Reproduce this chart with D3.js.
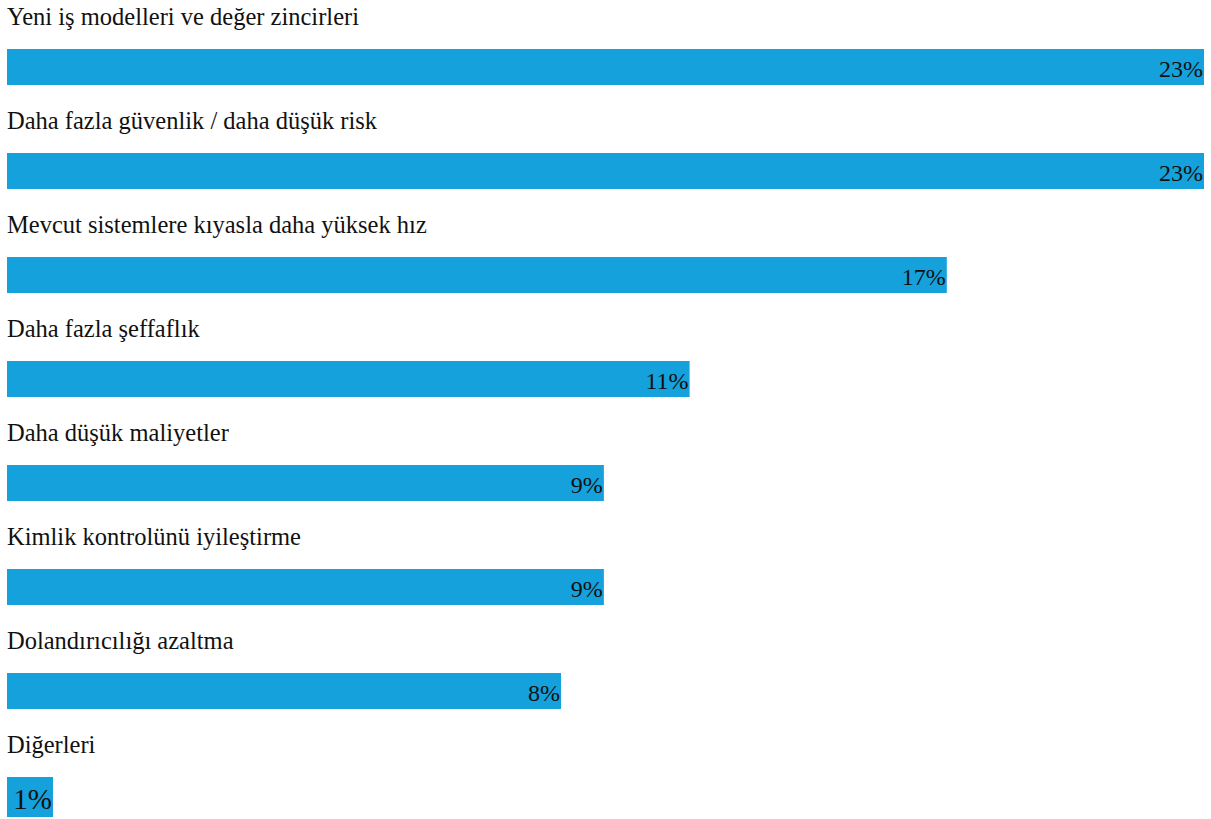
<!DOCTYPE html>
<html>
<head>
<meta charset="utf-8">
<script src="https://cdn.jsdelivr.net/npm/d3@7/dist/d3.min.js"></script>
<style>
  html, body { margin: 0; padding: 0; background: #fff; }
  svg { display: block; }
  text { font-family: "Liberation Serif", "DejaVu Serif", serif; fill: #111; }
</style>
</head>
<body>
<script>
const categories = [
  "Yeni iş modelleri ve değer zincirleri",
  "Daha fazla güvenlik / daha düşük risk",
  "Mevcut sistemlere kıyasla daha yüksek hız",
  "Daha fazla şeffaflık",
  "Daha düşük maliyetler",
  "Kimlik kontrolünü iyileştirme",
  "Dolandırıcılığı azaltma",
  "Diğerleri"
];
const values = [23, 23, 17, 11, 9, 9, 8, 1];
const valueLabels = ["23%", "23%", "17%", "11%", "9%", "9%", "8%", "1%"];

const W = 1211, H = 819;
const left = 7;
const barColor = "#14a1dc";

const svg = d3.select("body").append("svg").attr("width", W).attr("height", H);

const y = d3.scaleBand().domain(categories).range([0, categories.length * 104]).paddingInner(0);
// bar length scale (small values collapse to a label-hugging box)
const x = d3.scaleLinear().domain([1, 8, 23]).range([46, 554, 1197]);

const rows = svg.selectAll("g.row").data(categories).join("g")
  .attr("class", "row")
  .attr("transform", d => `translate(${left},${y(d)})`);

rows.append("text")
  .attr("x", 0)
  .attr("y", 25)
  .style("font-size", "24.5px")
  .text(d => d);

rows.append("rect")
  .attr("x", 0)
  .attr("y", 49)
  .attr("width", (d, i) => x(values[i]))
  .attr("height", (d, i) => values[i] < 2 ? 40 : 36)
  .attr("fill", barColor);

rows.append("text")
  .attr("x", (d, i) => x(values[i]) - 1)
  .attr("y", (d, i) => values[i] < 2 ? 80.5 : 77)
  .attr("text-anchor", "end")
  .style("font-size", (d, i) => values[i] < 2 ? "29px" : "24px")
  .text((d, i) => valueLabels[i]);
</script>
</body>
</html>
